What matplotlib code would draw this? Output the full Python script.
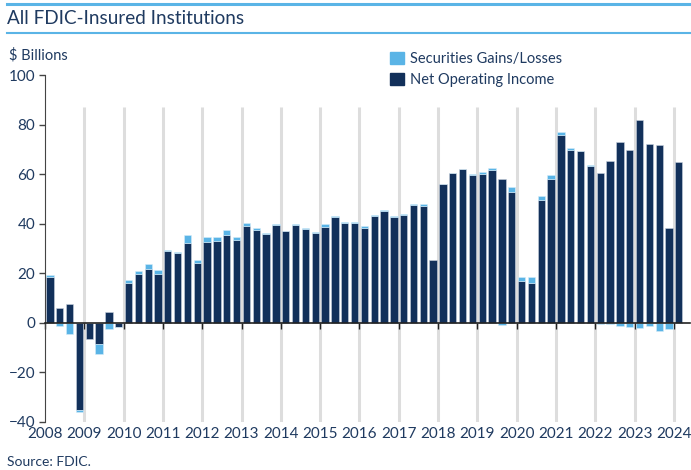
import numpy as np
import matplotlib
matplotlib.use('Agg')
from matplotlib import pyplot as plt
from matplotlib.patches import Rectangle
from matplotlib.lines import Line2D

# quarterly values, 2008Q1 .. 2024Q1, $ billions
net_operating_income = [
    18.6, 6.1, 7.4, -35.1,
    -6.8, -8.6, 4.3, -1.6,
    16.2, 19.6, 21.6, 19.5,
    28.9, 28.2, 32.0, 23.9,
    32.6, 32.8, 35.4, 33.4,
    38.9, 37.3, 35.7, 39.6,
    36.9, 39.6, 38.0, 36.1,
    38.8, 42.6, 40.1, 40.1,
    38.2, 43.0, 44.9, 42.7,
    43.4, 47.4, 47.3, 25.4,
    55.8, 60.3, 61.9, 59.7,
    60.0, 61.6, 58.1, 52.7,
    16.9, 16.2, 49.5, 58.1,
    75.7, 69.7, 69.3, 63.4,
    60.3, 65.1, 72.8, 69.9,
    81.9, 72.0, 71.8, 38.2,
    64.9,
]
securities_gains = [
    0.7, -1.4, -4.5, -0.9,
    0.0, -4.1, -2.4, -0.3,
    1.1, 1.2, 2.2, 1.9,
    0.3, 0.4, 3.3, 1.5,
    2.1, 1.7, 2.2, 1.1,
    1.5, 1.1, 0.5, 0.3,
    0.3, 0.4, 0.4, 0.4,
    1.1, 0.4, 0.4, 0.7,
    0.7, 0.5, 0.6, 0.3,
    0.5, 0.7, 0.7, 0.0,
    0.3, 0.2, 0.3, 0.2,
    0.8, 1.0, -0.8, 2.2,
    1.5, 2.2, 1.7, 1.4,
    1.1, 0.7, 0.2, 0.4,
    -0.4, -0.6, -1.2, -1.8,
    -2.2, -1.2, -3.5, -2.6,
    0.0,
]
years = list(range(2008, 2025))
grid_years = years[1:]
yticks = [-40, -20, 0, 20, 40, 60, 80, 100]

navy = '#12305a'
light = '#5ab4e6'
text_c = '#1f3a60'

noi = np.array(net_operating_income)
gains = np.array(securities_gains)
x = 2008 + (np.arange(len(noi)) + 0.5) * 0.25
gain_bottom = np.where(np.sign(gains) == np.sign(noi), noi, 0)

plt.rcParams['font.family'] = ['Lato', 'DejaVu Sans']

fig = plt.figure(figsize=(6.91, 4.70), dpi=100)
ax = fig.add_axes([0.0651, 0.1028, 0.9335, 0.7376])

ax.vlines(grid_years, -40, 87, colors='#dddddd', lw=2.2, zorder=0)
ax.bar(x, noi, width=0.186, color=navy, edgecolor='#c9d3df', lw=0.4, zorder=2)
ax.bar(x, gains, bottom=gain_bottom, width=0.186, color=light,
       edgecolor='#d5ecf8', lw=0.4, zorder=2)

ax.set_xlim(2008, 2024.41)
ax.set_ylim(-40, 100)
ax.set_yticks(yticks)
ax.tick_params(axis='y', direction='out', length=4, width=1, color='#444444',
               labelsize=11, labelcolor=text_c, pad=3)

for s in ['top', 'right']:
    ax.spines[s].set_visible(False)
ax.spines['left'].set_color('#444444')
ax.spines['bottom'].set_position(('data', 0))
ax.spines['bottom'].set_color('#222222')
ax.spines['bottom'].set_linewidth(1.2)
ax.set_xticks(years)
ax.tick_params(axis='x', direction='out', length=4, width=1, color='#222222',
               labelbottom=False)

sec = ax.secondary_xaxis(0)
sec.set_xticks(years)
sec.spines['bottom'].set_visible(False)
sec.tick_params(axis='x', length=0, labelsize=11, labelcolor=text_c, pad=4)

# header lines and texts
fig.add_artist(Line2D([0.010, 1.0], [1 - 4 / 470, 1 - 4 / 470], color=light, lw=2.2))
fig.add_artist(Line2D([0.010, 1.0], [1 - 33 / 470, 1 - 33 / 470], color=light, lw=1.5))
fig.text(0.010, 1 - 18 / 470, 'All FDIC-Insured Institutions', fontsize=13.6,
         color=text_c, va='center', ha='left')
fig.text(0.013, 1 - 55 / 470, '$ Billions', fontsize=10.5, color=text_c,
         va='center', ha='left')
fig.text(0.010, 1 - 462 / 470, 'Source: FDIC.', fontsize=10, color=text_c,
         va='center', ha='left')

handles = [Rectangle((0, 0), 1, 1, color=light), Rectangle((0, 0), 1, 1, color=navy)]
fig.legend(handles, ['Securities Gains/Losses', 'Net Operating Income'],
           loc='upper left', bbox_to_anchor=(0.565, 1 - 52 / 470), frameon=False,
           fontsize=10.5, labelcolor=text_c, handlelength=0.9, handleheight=0.9,
           handletextpad=0.45, labelspacing=0.45, borderpad=0, borderaxespad=0)

plt.savefig('out.png', dpi=100)
